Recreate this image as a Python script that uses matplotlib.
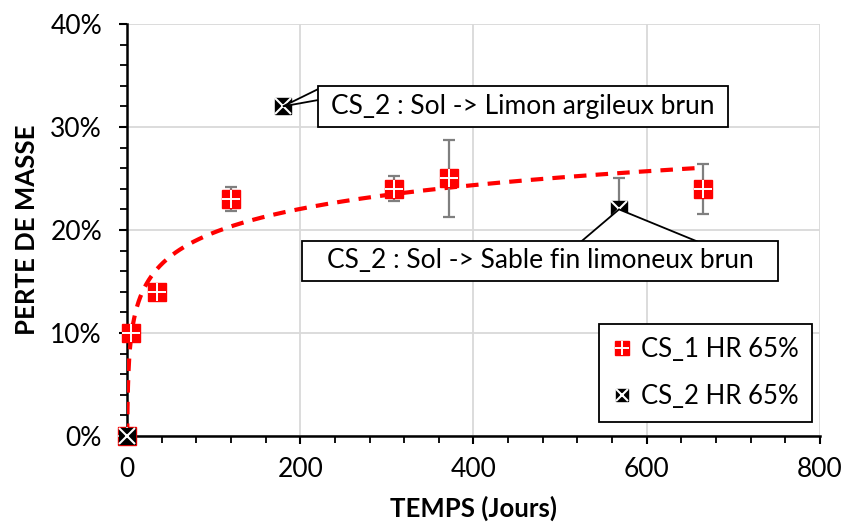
import numpy as np
import matplotlib.pyplot as plt
from matplotlib.patches import Polygon, Rectangle
from matplotlib.ticker import MultipleLocator, FuncFormatter

plt.rcParams['font.family'] = ['Lato', 'DejaVu Sans']

# CS_1 HR 65% : temps (jours), perte de masse (%), barre d'erreur (%)
cs1_t = [0, 5, 35, 120, 308, 372, 665]
cs1_p = [0, 10, 14, 23, 24, 25, 24]
cs1_err = [0, 0, 0, 1.2, 1.2, 3.7, 2.4]

# CS_2 HR 65%
cs2_t = [0, 180, 568]
cs2_p = [0, 32, 22]
cs2_err_up = [0, 0, 3]

ann1 = "CS_2 : Sol -> Limon argileux brun"
ann2 = "CS_2 : Sol -> Sable fin limoneux brun"

fig = plt.figure(figsize=(8.45, 5.32), dpi=100)
ax = fig.add_axes([0.1503, 0.1805, 0.8201, 0.7744])

# courbe de tendance logarithmique (fit sur les points t > 0)
t_fit = np.array([t for t in cs1_t if t > 0], dtype=float)
p_fit = np.array([p for t, p in zip(cs1_t, cs1_p) if t > 0], dtype=float)
a, b = np.polyfit(np.log(t_fit), p_fit, 1)
t0 = np.exp(-b / a)
tt = np.geomspace(t0, max(cs1_t), 400)
ax.plot(tt, a * np.log(tt) + b, color='red', lw=3, dashes=(3, 2.2), zorder=3)

# barres d'erreur
ax.errorbar(cs1_t, cs1_p, yerr=cs1_err, fmt='none', ecolor='#7f7f7f',
            elinewidth=1.6, capsize=4.5, capthick=1.6, zorder=4)
ax.errorbar(cs2_t, cs2_p, yerr=[[0] * len(cs2_err_up), cs2_err_up], fmt='none',
            ecolor='#7f7f7f', elinewidth=1.6, capsize=4.5, capthick=1.6, zorder=4)

# marqueurs
s1, = ax.plot(cs1_t, cs1_p, 's', color='red', ms=13.5, mec='red', ls='none',
              zorder=5, clip_on=False)
p1, = ax.plot(cs1_t, cs1_p, '+', color='white', ms=13.5, mew=1.4, ls='none',
              zorder=6, clip_on=False)
s2, = ax.plot(cs2_t, cs2_p, 's', color='black', ms=12, mec='black', ls='none',
              zorder=7, clip_on=False)
x2, = ax.plot(cs2_t, cs2_p, 'x', color='white', ms=11, mew=1.5, ls='none',
              zorder=8, clip_on=False)

ax.set_xlim(0, 800)
ax.set_ylim(0, 40)
ax.xaxis.set_major_locator(MultipleLocator(200))
ax.xaxis.set_minor_locator(MultipleLocator(40))
ax.yaxis.set_major_locator(MultipleLocator(10))
ax.yaxis.set_minor_locator(MultipleLocator(2))
ax.yaxis.set_major_formatter(FuncFormatter(lambda v, pos: f'{v:.0f}%'))

ax.grid(which='major', color='#d9d9d9', lw=1.3, zorder=0)
ax.set_axisbelow(True)
for side in ['top', 'right']:
    ax.spines[side].set_visible(False)
for side in ['left', 'bottom']:
    ax.spines[side].set_linewidth(1.8)
ax.tick_params(which='major', length=6, width=1.5, labelsize=19)
ax.tick_params(which='minor', length=5, width=1.3)
ax.tick_params(axis='x', which='major', pad=9)
ax.tick_params(axis='y', which='major', pad=12)

ax.set_xlabel('TEMPS (Jours)', fontsize=18.5, fontweight='bold', labelpad=10)
ax.set_ylabel('PERTE DE MASSE', fontsize=18.5, fontweight='bold', labelpad=8)

# annotations (bulles)
ax.add_patch(Polygon([(180, 32), (226, 33.9), (226, 32.7)], closed=True,
                     fc='white', ec='black', lw=1.3, zorder=9, clip_on=False))
ax.add_patch(Rectangle((220.5, 30.0), 473.5, 3.98, fc='white', ec='black',
                       lw=1.3, zorder=10, clip_on=False))
ax.text(457, 32.0, ann1, fontsize=19, ha='center', va='center', zorder=11)

ax.add_patch(Polygon([(568, 22), (512, 18.0), (684, 18.0)], closed=True,
                     fc='white', ec='black', lw=1.3, zorder=9, clip_on=False))
ax.add_patch(Rectangle((202, 15.05), 549.7, 3.88, fc='white', ec='black',
                       lw=1.3, zorder=10, clip_on=False))
ax.text(477, 17.0, ann2, fontsize=19, ha='center', va='center', zorder=11)

leg = ax.legend([(s1, p1), (s2, x2)], ['CS_1 HR 65%', 'CS_2 HR 65%'],
                loc='lower right', bbox_to_anchor=(0.988, 0.034),
                borderaxespad=0, fontsize=18.5,
                markerscale=0.75, handlelength=0.8, handletextpad=0.35,
                labelspacing=0.85, borderpad=0.5, fancybox=False,
                framealpha=1, edgecolor='black')
leg.get_frame().set_linewidth(1.3)
leg.set_zorder(12)

fig.savefig('out.png', dpi=100)
